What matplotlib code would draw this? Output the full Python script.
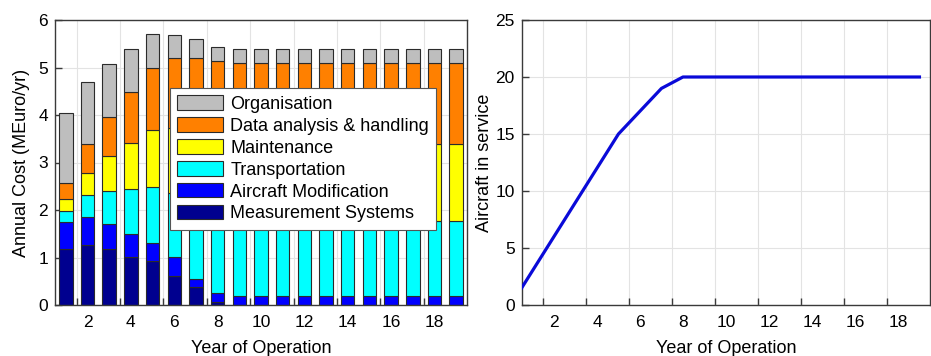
import matplotlib
matplotlib.use("Agg")
import matplotlib.pyplot as plt
import numpy as np

plt.rcParams["font.family"] = ["Liberation Sans", "DejaVu Sans"]

# Annual cost breakdown per year of operation (MEuro/yr)
years = list(range(1, 20))
measurement_systems = [1.18, 1.26, 1.18, 1.02, 0.92, 0.61, 0.37, 0.07, 0, 0, 0, 0, 0, 0, 0, 0, 0, 0, 0]
aircraft_modification = [0.57, 0.59, 0.52, 0.48, 0.38, 0.40, 0.17, 0.18, 0.19, 0.19, 0.19, 0.19, 0.19, 0.19, 0.19, 0.19, 0.19, 0.19, 0.19]
transportation = [0.22, 0.46, 0.71, 0.95, 1.19, 1.35, 1.55, 1.60, 1.57, 1.57, 1.57, 1.57, 1.57, 1.57, 1.57, 1.57, 1.57, 1.57, 1.57]
maintenance = [0.26, 0.47, 0.72, 0.96, 1.19, 1.37, 1.55, 1.60, 1.64, 1.64, 1.64, 1.64, 1.64, 1.64, 1.64, 1.64, 1.64, 1.64, 1.64]
data_analysis = [0.34, 0.60, 0.83, 1.07, 1.32, 1.46, 1.57, 1.69, 1.69, 1.69, 1.69, 1.69, 1.69, 1.69, 1.69, 1.69, 1.69, 1.69, 1.69]
organisation = [1.48, 1.32, 1.11, 0.91, 0.70, 0.49, 0.39, 0.30, 0.31, 0.31, 0.31, 0.31, 0.31, 0.31, 0.31, 0.31, 0.31, 0.31, 0.31]

series_names = ["Measurement Systems", "Aircraft Modification", "Transportation",
                "Maintenance", "Data analysis & handling", "Organisation"]
series_colors = ["#00008f", "#0000ff", "#00ffff", "#ffff00", "#ff8000", "#bebebe"]

# Fleet size over time
fleet_years = [0.5, 1, 2, 3, 4, 5, 6, 7, 8, 9, 10, 11, 12, 13, 14, 15, 16, 17, 18, 19]
aircraft_in_service = [1.5, 3, 6, 9, 12, 15, 17, 19, 20, 20, 20, 20, 20, 20, 20, 20, 20, 20, 20, 20]

label_ticks = [2, 4, 6, 8, 10, 12, 14, 16, 18]
mark_ticks = [1.5, 3.5, 5.5, 7.5, 9.5, 11.5, 13.5, 15.5, 17.5]

W, H = 931, 356
fig = plt.figure(figsize=(W / 100, H / 100), dpi=100)

ax1 = fig.add_axes([55 / W, (H - 305) / H, 412 / W, 285 / H])
ax2 = fig.add_axes([521.7 / W, (H - 305) / H, 408.5 / W, 285 / H])

spine_color = "#3a3a3a"
grid_color = "#e3e3e3"
tick_fs = 12.5
label_fs = 13


def style_axes(ax):
    for s in ax.spines.values():
        s.set_color(spine_color)
        s.set_linewidth(1.0)
    ax.set_xlim(0.5, 19.5)
    ax.set_xticks(label_ticks)
    ax.set_xticks(mark_ticks, minor=True)
    ax.tick_params(axis="x", which="major", length=0, pad=7, labelsize=tick_fs)
    ax.tick_params(axis="x", which="minor", direction="in", length=5,
                   width=1.0, color=spine_color)
    ax.tick_params(axis="y", which="major", direction="in", length=5,
                   width=1.0, color=spine_color, labelsize=tick_fs, pad=5)
    ax.grid(which="minor", axis="x", color=grid_color, linewidth=0.8)
    ax.grid(which="major", axis="y", color=grid_color, linewidth=0.8)
    ax.set_axisbelow(True)
    ax.set_xlabel("Year of Operation", fontsize=label_fs)
    ax.xaxis.set_label_coords(0.5, -0.152)
    ax.xaxis.label.set_va("center")


# Stacked cost bars
style_axes(ax1)
stack = [measurement_systems, aircraft_modification, transportation,
         maintenance, data_analysis, organisation]
bottom = np.zeros(len(years))
handles = []
for name, vals, col in zip(series_names, stack, series_colors):
    b = ax1.bar(years, vals, width=0.62, bottom=bottom, color=col,
                edgecolor="#2b2b2b", linewidth=0.8, label=name, zorder=2)
    handles.append(b)
    bottom += np.array(vals)
ax1.set_ylim(0, 6)
ax1.set_yticks([0, 1, 2, 3, 4, 5, 6])
ax1.set_ylabel("Annual Cost (MEuro/yr)", fontsize=label_fs, va="center")
ax1.yaxis.set_label_coords(-0.081, 0.5)

leg = ax1.legend(handles[::-1], series_names[::-1], loc="upper left",
                 bbox_to_anchor=((170 - 55) / 412, (305 - 88) / 285),
                 fontsize=label_fs, frameon=True, fancybox=False,
                 framealpha=1.0, edgecolor="#555555", borderpad=0.4,
                 labelspacing=0.25, handlelength=2.55, handleheight=0.85,
                 handletextpad=0.4, borderaxespad=0.0)
leg.get_frame().set_linewidth(0.8)
leg.set_zorder(5)

# Fleet line
style_axes(ax2)
ax2.plot(fleet_years, aircraft_in_service, color="#0a0ad8", linewidth=2.3,
         solid_joinstyle="round", zorder=3)
ax2.set_ylim(0, 25)
ax2.set_yticks([0, 5, 10, 15, 20, 25])
ax2.set_ylabel("Aircraft in service", fontsize=label_fs, va="center")
ax2.yaxis.set_label_coords(-0.09, 0.5)

fig.savefig("out.png", dpi=100)
